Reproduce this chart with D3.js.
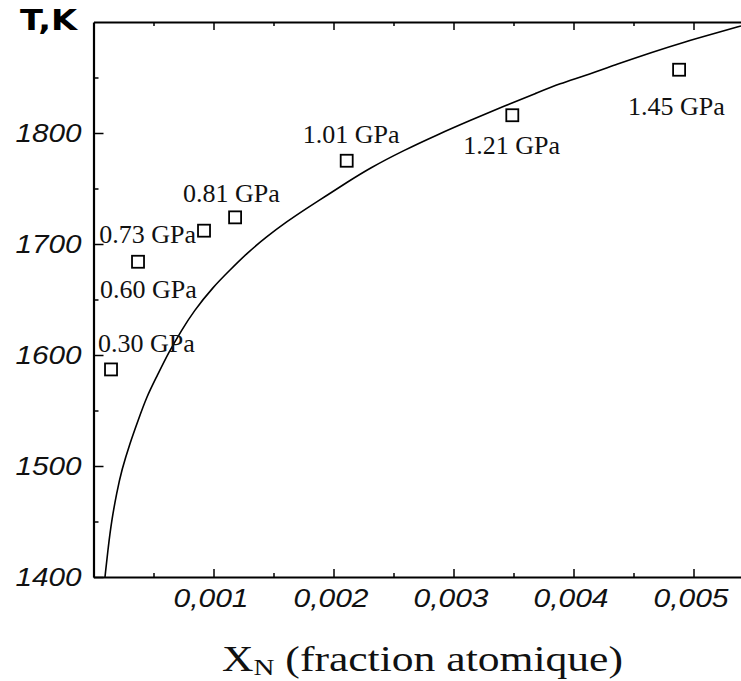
<!DOCTYPE html>
<html>
<head>
<meta charset="utf-8">
<script src="https://cdn.jsdelivr.net/npm/d3@7"></script>
<style>
  body { margin: 0; background: #fff; }
  svg { display: block; }
</style>
</head>
<body>
<script>
const width = 741;
const height = 681;

// axis ticks
const xTicks = [0.001, 0.002, 0.003, 0.004, 0.005];
const xMinorTicks = [0.0005, 0.0015, 0.0025, 0.0035, 0.0045];
const yTicks = [1400, 1500, 1600, 1700, 1800];
const yMinorTicks = [1450, 1550, 1650, 1750, 1850];

// measured points (squares)
const pressures = ["0.30 GPa", "0.60 GPa", "0.73 GPa", "0.81 GPa", "1.01 GPa", "1.21 GPa", "1.45 GPa"];
const pointX = [0.000146, 0.000371, 0.000921, 0.00118, 0.00211, 0.00349, 0.00488];
const pointT = [1587, 1684, 1712, 1724, 1775, 1816, 1857];

// solubility curve
const curveX = [0.0000958, 0.000123, 0.000152, 0.000193, 0.000235, 0.000304, 0.000373, 0.000443,
                0.000527, 0.000623, 0.000735, 0.000832, 0.000998, 0.001138, 0.001277, 0.001443,
                0.00161, 0.001777, 0.001943, 0.00211, 0.002304, 0.002582, 0.00286, 0.003138,
                0.003415, 0.003693, 0.003888, 0.00409, 0.004368, 0.004646, 0.004923, 0.005202,
                0.005396];
const curveT = [1400, 1427.3, 1451.4, 1475.7, 1496.4, 1520.7, 1541.4, 1562.4,
                1580.5, 1601.8, 1622.5, 1639.0, 1661.5, 1676.6, 1691.6, 1706.6,
                1720.1, 1732.2, 1743.7, 1755.4, 1768.5, 1784.2, 1798.2, 1811.3,
                1823.9, 1836.0, 1844.6, 1851.4, 1862.2, 1872.5, 1882.0, 1890.5,
                1896.4];

// label placement relative to each square: [dx, dy, anchor]
const labelLayout = [[-13, -17, "start"], [-38, 36, "start"], [-8, 12, "end"], [-52, -15, "start"],
                     [-44, -18, "start"], [-49, 39, "start"], [-51, 45, "start"]];

const plotLeft = 93.5, plotRight = 741.5, plotTop = 22, plotBottom = 577;

const xScale = d3.scaleLinear().domain([0, 0.0054]).range([plotLeft, plotRight]);
const yScale = d3.scaleLinear().domain([1400, 1900]).range([plotBottom, plotTop]);

const comma = d3.formatLocale({decimal: ",", thousands: " ", grouping: [3], currency: ["", ""]});

const svg = d3.select('body').append('svg')
    .attr("width", width).attr("height", height)
    .style("background-color", "#fff");

const tickFont = "'Liberation Sans', Arial, sans-serif";

// bottom axis
const xAxis = d3.axisBottom(xScale).tickValues(xTicks)
    .tickSizeInner(-8).tickSizeOuter(0).tickPadding(12)
    .tickFormat(comma.format(".3f"));
const gx = svg.append('g').attr("transform", "translate(0," + plotBottom + ")").call(xAxis);
svg.append('g').attr("transform", "translate(0," + plotBottom + ")")
    .call(d3.axisBottom(xScale).tickValues(xMinorTicks).tickSizeInner(-4).tickSizeOuter(0).tickFormat(""))
    .select(".domain").remove();

// top axis (no labels)
svg.append('g').attr("transform", "translate(0," + plotTop + ")")
    .call(d3.axisTop(xScale).tickValues(xTicks).tickSizeInner(-8).tickSizeOuter(0).tickFormat(""));
svg.append('g').attr("transform", "translate(0," + plotTop + ")")
    .call(d3.axisTop(xScale).tickValues(xMinorTicks).tickSizeInner(-4).tickSizeOuter(0).tickFormat(""))
    .select(".domain").remove();

// left axis
const yAxis = d3.axisLeft(yScale).tickValues(yTicks)
    .tickSizeInner(-10).tickSizeOuter(0).tickPadding(12)
    .tickFormat(d3.format("d"));
const gy = svg.append('g').attr("transform", "translate(" + plotLeft + ",0)").call(yAxis);
svg.append('g').attr("transform", "translate(" + plotLeft + ",0)")
    .call(d3.axisLeft(yScale).tickValues(yMinorTicks).tickSizeInner(-5).tickSizeOuter(0).tickFormat(""))
    .select(".domain").remove();

svg.selectAll(".domain").attr("stroke", "#000").attr("stroke-width", 2.2);
svg.selectAll(".tick line").attr("stroke", "#000").attr("stroke-width", 1.5);

// the scanned labels are wider than the font, so stretch them a bit
[gx, gy].forEach(g => g.selectAll(".tick text")
    .attr("font-family", tickFont)
    .attr("font-style", "italic")
    .attr("font-size", 25)
    .attr("lengthAdjust", "spacingAndGlyphs")
    .attr("fill", "#111"));
gx.selectAll(".tick text").attr("dx", -3).attr("textLength", 75);
gy.selectAll(".tick text").attr("textLength", 66);

// curve (basis spline evens out the reading noise)
const line = d3.line()
    .x((d, i) => xScale(curveX[i]))
    .y((d, i) => yScale(curveT[i]))
    .curve(d3.curveBasis);
svg.append('path').datum(curveX)
    .attr("d", line)
    .attr("fill", "none")
    .attr("stroke", "#000")
    .attr("stroke-width", 1.6);

// squares
const sq = 12;
svg.selectAll('rect.pt').data(pointX).enter().append('rect')
    .attr("class", "pt")
    .attr("x", (d, i) => xScale(d) - sq / 2)
    .attr("y", (d, i) => yScale(pointT[i]) - sq / 2)
    .attr("width", sq).attr("height", sq)
    .attr("fill", "#fff")
    .attr("stroke", "#000")
    .attr("stroke-width", 1.8);

// pressure labels
svg.selectAll('text.lbl').data(pressures).enter().append('text')
    .attr("class", "lbl")
    .attr("x", (d, i) => xScale(pointX[i]) + labelLayout[i][0])
    .attr("y", (d, i) => yScale(pointT[i]) + labelLayout[i][1])
    .attr("text-anchor", (d, i) => labelLayout[i][2])
    .attr("font-family", "'Liberation Serif', 'Times New Roman', serif")
    .attr("font-size", 26)
    .attr("fill", "#111")
    .text(d => d);

// axis titles
svg.append('text')
    .attr("x", 20).attr("y", 30)
    .attr("font-family", "'DejaVu Sans', sans-serif")
    .attr("font-weight", "bold")
    .attr("font-size", 28)
    .attr("textLength", 57).attr("lengthAdjust", "spacingAndGlyphs")
    .text("T,K");

const xt = svg.append('text')
    .attr("x", 222).attr("y", 671)
    .attr("font-family", "'Liberation Serif', 'Times New Roman', serif")
    .attr("font-size", 36)
    .attr("textLength", 401).attr("lengthAdjust", "spacingAndGlyphs")
    .attr("fill", "#111");
xt.append('tspan').text("X");
xt.append('tspan').attr("font-size", 24).attr("dy", 4).text("N");
xt.append('tspan').attr("dy", -4).text(" (fraction atomique)");
</script>
</body>
</html>
